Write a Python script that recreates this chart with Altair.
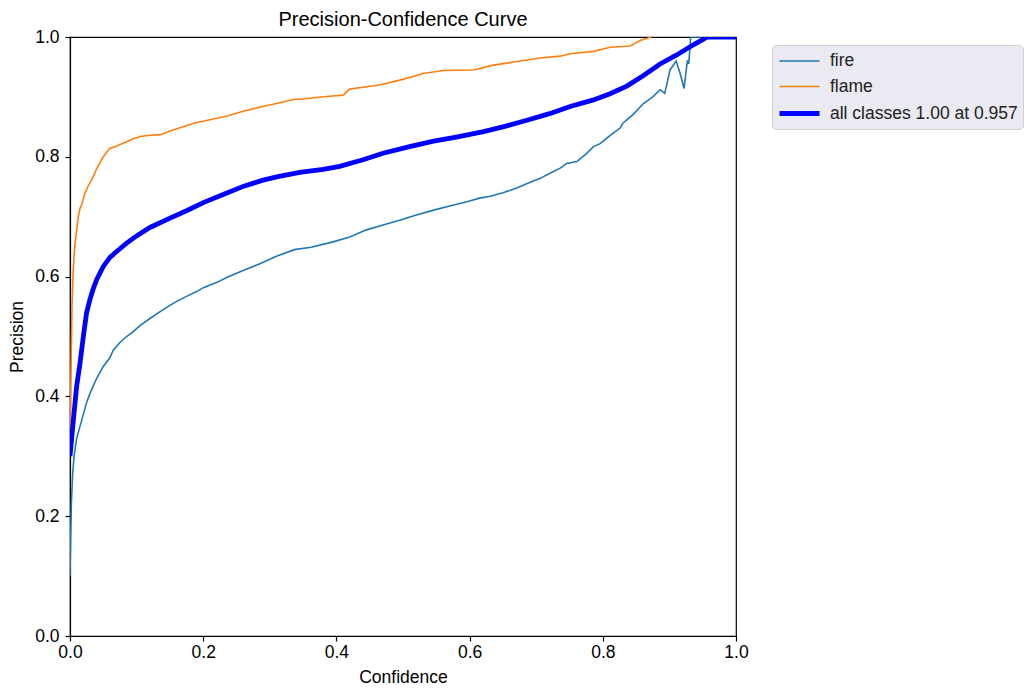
import altair as alt
import pandas as pd

FONT = "Liberation Sans"

fire_x = [0, 0.002, 0.004, 0.006, 0.01, 0.015, 0.02, 0.025, 0.03, 0.04, 0.05, 0.06, 0.065, 0.075,
          0.085, 0.095, 0.105, 0.12, 0.136, 0.15, 0.161, 0.175, 0.19, 0.201, 0.22, 0.236, 0.26,
          0.286, 0.31, 0.337, 0.362, 0.395, 0.42, 0.445, 0.47, 0.495, 0.52, 0.546, 0.57, 0.596,
          0.615, 0.631, 0.65, 0.671, 0.69, 0.706, 0.72, 0.736, 0.746, 0.761, 0.775, 0.786, 0.796,
          0.806, 0.816, 0.826, 0.83, 0.845, 0.861, 0.875, 0.886, 0.893, 0.901, 0.910, 0.916,
          0.922, 0.927, 0.929, 0.932, 1.0]
fire_y = [0.10, 0.22, 0.27, 0.30, 0.33, 0.35, 0.37, 0.39, 0.405, 0.43, 0.45, 0.465, 0.477, 0.49,
          0.50, 0.508, 0.518, 0.53, 0.542, 0.552, 0.559, 0.567, 0.575, 0.582, 0.59, 0.599, 0.61,
          0.622, 0.634, 0.645, 0.649, 0.658, 0.666, 0.678, 0.686, 0.694, 0.703, 0.711, 0.718, 0.725,
          0.731, 0.734, 0.74, 0.748, 0.757, 0.764, 0.772, 0.781, 0.789, 0.792, 0.805, 0.817, 0.822,
          0.831, 0.84, 0.848, 0.856, 0.87, 0.889, 0.90, 0.912, 0.906, 0.945, 0.960, 0.94,
          0.914, 0.961, 0.955, 1.0, 1.0]

flame_x = [0, 0.001, 0.002, 0.003, 0.005, 0.0075, 0.01, 0.0125, 0.015, 0.0175, 0.0225, 0.0275,
           0.0325, 0.04, 0.045, 0.05, 0.055, 0.06, 0.07, 0.085, 0.095, 0.105, 0.12, 0.136, 0.15,
           0.17, 0.186, 0.21, 0.236, 0.26, 0.286, 0.31, 0.337, 0.345, 0.37, 0.39, 0.41, 0.42,
           0.44, 0.465, 0.495, 0.515, 0.53, 0.561, 0.606, 0.636, 0.671, 0.706, 0.736, 0.751,
           0.786, 0.811, 0.841, 0.856, 0.873]
flame_y = [0.30, 0.40, 0.48, 0.55, 0.615, 0.655, 0.678, 0.70, 0.714, 0.72, 0.739, 0.752,
           0.761, 0.78, 0.79, 0.80, 0.808, 0.814, 0.818, 0.825, 0.83, 0.834, 0.836, 0.837, 0.843,
           0.85, 0.856, 0.862, 0.868, 0.876, 0.883, 0.889, 0.896, 0.896, 0.899, 0.901, 0.903, 0.913,
           0.916, 0.920, 0.928, 0.934, 0.939, 0.944, 0.945, 0.953, 0.959, 0.965, 0.968, 0.972,
           0.976, 0.983, 0.985, 0.994, 1.0]

all_x = [0, 0.005, 0.01, 0.015, 0.02, 0.025, 0.03, 0.035, 0.04, 0.05, 0.06, 0.07, 0.085, 0.1,
         0.12, 0.151, 0.175, 0.201, 0.23, 0.261, 0.29, 0.312, 0.345, 0.38, 0.405, 0.44, 0.47,
         0.51, 0.546, 0.58, 0.621, 0.65, 0.686, 0.72, 0.751, 0.786, 0.81, 0.836, 0.86, 0.886,
         0.911, 0.936, 0.957, 1.0]
all_y = [0.30, 0.36, 0.417, 0.455, 0.50, 0.54, 0.562, 0.580, 0.595, 0.617, 0.632, 0.642, 0.656,
         0.668, 0.682, 0.698, 0.71, 0.724, 0.737, 0.751, 0.761, 0.767, 0.774, 0.779, 0.784,
         0.795, 0.806, 0.817, 0.826, 0.833, 0.842, 0.85, 0.861, 0.872, 0.884, 0.895, 0.905,
         0.918, 0.935, 0.955, 0.970, 0.987, 1.0, 1.0]

series_names = ["fire", "flame", "all classes 1.00 at 0.957"]
series_colors = ["#1f77b4", "#ff7f0e", "#0000ff"]
series_widths = [1.6, 1.6, 4.8]
x_ticks = [0.0, 0.2, 0.4, 0.6, 0.8, 1.0]

rows = []
for name, xs, ys in zip(series_names, [fire_x, flame_x, all_x], [fire_y, flame_y, all_y]):
    for i, (a, b) in enumerate(zip(xs, ys)):
        rows.append({"series": name, "x": a, "y": b, "i": i})
df = pd.DataFrame(rows)

legend = alt.Legend(title=None, orient="none", legendX=702, legendY=8,
                    symbolType="M-1,0H3", symbolSize=400, labelFont=FONT, labelFontSize=17.5,
                    labelColor="#222222", fillColor="#EAEAF2", strokeColor="#D0D0D0",
                    cornerRadius=4, padding=5, labelOffset=28, rowPadding=5.5, labelLimit=400)

chart = alt.Chart(df).mark_line(clip=True).encode(
    x=alt.X("x:Q", scale=alt.Scale(domain=[0, 1], nice=False),
            axis=alt.Axis(title="Confidence", values=x_ticks, format=".1f", labelFlush=False)),
    y=alt.Y("y:Q", scale=alt.Scale(domain=[0, 1], nice=False),
            axis=alt.Axis(title="Precision", values=x_ticks, format=".1f", labelFlush=False)),
    color=alt.Color("series:N", scale=alt.Scale(type="ordinal", domain=series_names, range=series_colors),
                    legend=legend),
    strokeWidth=alt.StrokeWidth("series:N", scale=alt.Scale(type="ordinal", domain=series_names,
                                                            range=series_widths),
                                legend=legend),
    order="i:Q",
).properties(
    width=666, height=599,
    title=alt.Title("Precision-Confidence Curve", font=FONT, fontSize=20, fontWeight="normal",
                    color="black", anchor="middle", offset=-2, frame="group"),
    autosize=alt.AutoSizeParams(type="none"),
    padding={"left": 70, "top": 37, "right": 296, "bottom": 53},
).configure_view(
    stroke="black", strokeWidth=1.2
).configure_axis(
    grid=False, domainColor="black", domainWidth=1.2, tickColor="black", tickSize=5, tickWidth=1.2,
    labelFont=FONT, labelFontSize=17.5, labelColor="black", labelPadding=2,
    titleFont=FONT, titleFontSize=17.5, titleFontWeight="normal", titleColor="black",
).configure_axisX(titlePadding=8).configure_axisY(titlePadding=8, labelPadding=6)

chart.save("out.html", embed_options={"renderer": "svg", "actions": False})
